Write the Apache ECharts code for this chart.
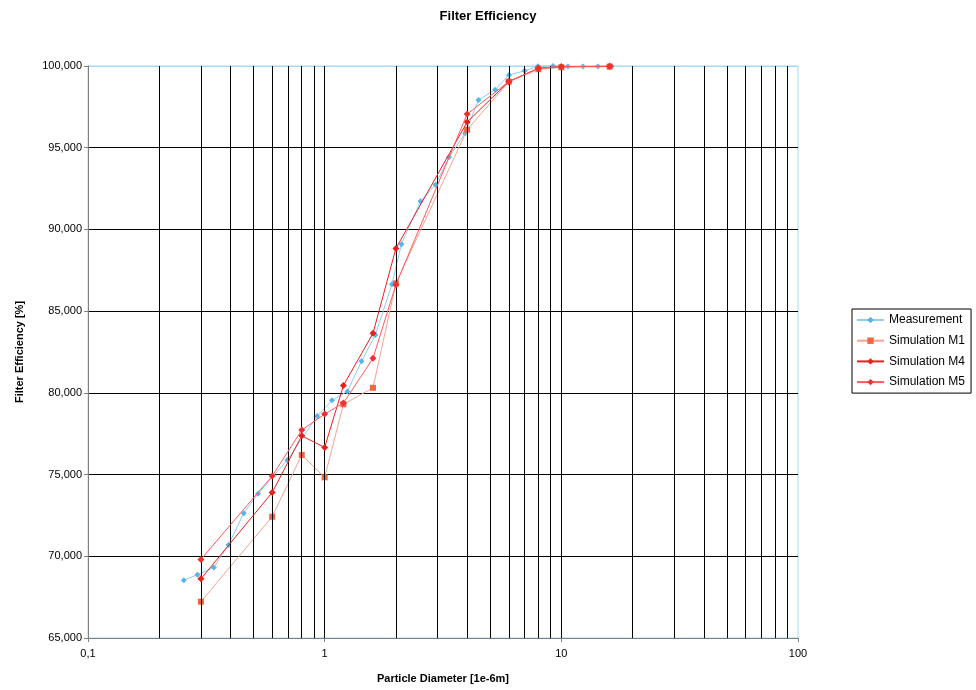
<!DOCTYPE html>
<html>
<head>
<meta charset="utf-8">
<script src="https://cdn.jsdelivr.net/npm/echarts@6/dist/echarts.min.js"></script>
<style>html,body{margin:0;padding:0;background:#fff;}#c{width:976px;height:690px;}</style>
</head>
<body>
<div id="c"></div>
<script>
// ---- data ----
var measX = [0.254, 0.29, 0.34, 0.392, 0.455, 0.523, 0.695, 0.93, 1.074, 1.247, 1.43, 1.637, 1.924, 2.11, 2.54, 2.94, 3.35, 3.92, 4.47, 5.25, 6.01, 7.0, 7.96, 9.22, 10.66, 12.34, 14.28, 16.3];
var measY = [68.54, 68.87, 69.32, 70.69, 72.64, 73.83, 75.89, 78.58, 79.54, 80.09, 81.93, 83.54, 86.64, 89.1, 91.72, 92.74, 94.41, 95.88, 97.92, 98.55, 99.45, 99.71, 99.98, 100, 99.97, 99.97, 99.97, 99.98];
var simX  = [0.3, 0.6, 0.8, 1.0, 1.2, 1.6, 2.0, 4.0, 6.0, 8.0, 10, 16];
var m1Y   = [67.22, 72.42, 76.2, 74.83, 79.3, 80.31, 86.7, 96.1, 99.04, 99.8, 99.92, 99.96];
var m4Y   = [68.62, 73.9, 77.37, 76.66, 80.45, 83.64, 88.84, 96.57, 99.05, 99.86, 99.96, 99.98];
var m5Y   = [69.81, 74.91, 77.72, 78.7, 79.38, 82.11, 86.62, 97.06, 99.05, 99.86, 99.96, 99.98];
var gridX = [0.2, 0.3, 0.4, 0.5, 0.6, 0.7, 0.8, 0.9, 1, 2, 3, 4, 5, 6, 7, 8, 9, 10, 20, 30, 40, 50, 60, 70, 80, 90];
var seriesNames = ['Measurement', 'Simulation M1', 'Simulation M4', 'Simulation M5'];

function pairs(xs, ys) { return xs.map(function (x, i) { return [x, ys[i]]; }); }

var FONT = 'Liberation Sans';
var BORDER = '#A6D8F2';
var chart = echarts.init(document.getElementById('c'), null, { renderer: 'canvas' });
chart.setOption({
  animation: false,
  backgroundColor: '#fff',
  title: {
    text: 'Filter Efficiency', left: 'center', top: 5,
    textStyle: { fontFamily: FONT, fontSize: 13, fontWeight: 'bold', color: '#000' }
  },
  grid: { left: 88, right: 178, top: 66, bottom: 52, show: true, borderColor: BORDER, borderWidth: 1, backgroundColor: 'transparent' },
  legend: {
    orient: 'vertical', left: 852, top: 309,
    itemWidth: 27, itemHeight: 8, itemGap: 8.7,
    padding: [5, 6, 5, 4],
    borderColor: '#000', borderWidth: 1, borderRadius: 0,
    textStyle: { fontFamily: FONT, fontSize: 12, color: '#000' },
    data: seriesNames
  },
  xAxis: {
    type: 'log', logBase: 10, min: 0.1, max: 100, interval: 1,
    name: 'Particle Diameter [1e-6m]', nameLocation: 'middle', nameGap: 35,
    nameTextStyle: { fontFamily: FONT, fontSize: 11, fontWeight: 'bold', color: '#000' },
    axisLine: { show: true, onZero: false, lineStyle: { color: '#808080', width: 1 } },
    axisTick: { show: true, inside: false, length: 4, lineStyle: { color: '#808080' } },
    axisLabel: { fontFamily: FONT, fontSize: 11, color: '#000', margin: 10,
      formatter: function (v) { return String(v).replace('.', ','); } },
    splitLine: { show: false }
  },
  yAxis: {
    type: 'value', min: 65, max: 100, interval: 5,
    name: 'Filter Efficiency [%]', nameLocation: 'middle', nameGap: 63,
    nameTextStyle: { fontFamily: FONT, fontSize: 11, fontWeight: 'bold', color: '#000' },
    axisLine: { show: true, onZero: false, lineStyle: { color: '#808080', width: 1 } },
    axisTick: { show: true, inside: false, length: 4, lineStyle: { color: '#808080' } },
    axisLabel: { fontFamily: FONT, fontSize: 11, color: '#000', margin: 6,
      formatter: function (v) { return v.toFixed(3).replace('.', ','); } },
    splitLine: { show: true, lineStyle: { color: ['#808080', '#000', '#000', '#000', '#000', '#000', '#000', BORDER], width: 1 } }
  },
  series: [
    {
      name: '_grid', type: 'line', data: [], z: 1, silent: true,
      markLine: {
        silent: true, symbol: ['none', 'none'], label: { show: false },
        lineStyle: { type: 'solid', color: '#000', width: 1 },
        emphasis: { disabled: true },
        data: gridX.map(function (x) { return { xAxis: x }; })
      }
    },
    {
      name: seriesNames[0], type: 'line', data: pairs(measX, measY), z: 3, clip: false,
      symbol: 'diamond', symbolSize: 6,
      itemStyle: { color: '#56B4E9' },
      lineStyle: { color: '#8CCDF0', width: 1 }
    },
    {
      name: seriesNames[1], type: 'line', data: pairs(simX, m1Y), z: 4, clip: false,
      symbol: 'rect', symbolSize: 6,
      itemStyle: { color: '#EE6645' },
      lineStyle: { color: '#F5A392', width: 1 }
    },
    {
      name: seriesNames[2], type: 'line', data: pairs(simX, m4Y), z: 5, clip: false,
      symbol: 'diamond', symbolSize: 7,
      itemStyle: { color: '#E8201C' },
      lineStyle: { color: '#E8201C', width: 1 }
    },
    {
      name: seriesNames[3], type: 'line', data: pairs(simX, m5Y), z: 6, clip: false,
      symbol: 'diamond', symbolSize: 7,
      itemStyle: { color: '#F03030' },
      lineStyle: { color: '#FF5A5A', width: 1 }
    }
  ]
});
</script>
</body>
</html>
